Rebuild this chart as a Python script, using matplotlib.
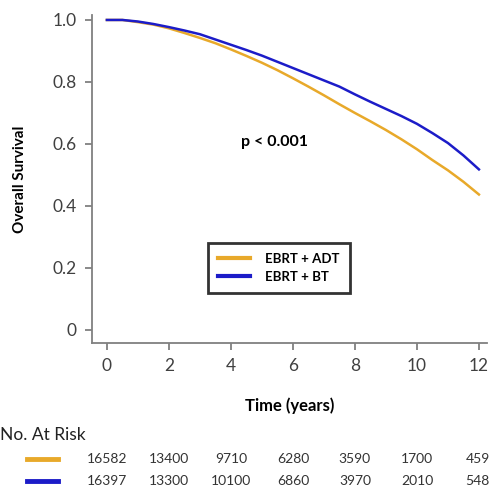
import matplotlib
matplotlib.use("Agg")
import matplotlib.pyplot as plt
from matplotlib.transforms import blended_transform_factory

plt.rcParams['font.family'] = ['Lato', 'DejaVu Sans']

# Data
time_years = [0, 0.5, 1.0, 1.5, 2.0, 2.5, 3.0, 3.5, 4.0, 4.5, 5.0, 5.5, 6.0,
              6.5, 7.0, 7.5, 8.0, 8.5, 9.0, 9.5, 10.0, 10.5, 11.0, 11.5, 12.0]
surv_adt = [1.0, 1.0, 0.993, 0.985, 0.973, 0.958, 0.942, 0.925, 0.905, 0.884,
            0.862, 0.838, 0.812, 0.785, 0.757, 0.728, 0.700, 0.673, 0.645,
            0.615, 0.583, 0.548, 0.515, 0.478, 0.437]
surv_bt = [1.0, 1.0, 0.995, 0.987, 0.977, 0.966, 0.954, 0.937, 0.920, 0.903,
           0.885, 0.865, 0.845, 0.825, 0.805, 0.785, 0.760, 0.736, 0.713,
           0.690, 0.665, 0.635, 0.603, 0.563, 0.518]
series_labels = ["EBRT + ADT", "EBRT + BT"]
risk_times = [0, 2, 4, 6, 8, 10, 12]
risk_adt = [16582, 13400, 9710, 6280, 3590, 1700, 459]
risk_bt = [16397, 13300, 10100, 6860, 3970, 2010, 548]
xticks = [0, 2, 4, 6, 8, 10, 12]
yticks = [0, 0.2, 0.4, 0.6, 0.8, 1.0]
ytick_labels = ["0", "0.2", "0.4", "0.6", "0.8", "1.0"]

c_adt = "#E8A92A"
c_bt = "#1C1CC8"

fig = plt.figure(figsize=(4.93, 4.88), dpi=100)
ax = fig.add_axes([92/493, 1 - 343/488, (487 - 92)/493, (343 - 15)/488])

ax.plot(time_years, surv_adt, color=c_adt, lw=1.8, label=series_labels[0])
ax.plot(time_years, surv_bt, color=c_bt, lw=1.8, label=series_labels[1])

ax.set_xlim(-0.48, 12.26)
ax.set_ylim(-0.042, 1.016)
for s in ['top', 'right']:
    ax.spines[s].set_visible(False)
for s in ['left', 'bottom']:
    ax.spines[s].set_color('#808080')
    ax.spines[s].set_linewidth(1.3)
ax.set_xticks(xticks)
ax.set_yticks(yticks)
ax.set_yticklabels(ytick_labels)
ax.tick_params(axis='both', colors='#808080', labelcolor='#404040',
               length=5, width=1.3, labelsize=12.5, pad=6)

ax.set_xlabel("Time (years)", fontsize=12, fontweight='bold', labelpad=17)
ax.set_ylabel("Overall Survival", fontsize=11, fontweight='bold', labelpad=18)

ax.text(5.4, 0.605, "p < 0.001", fontsize=11.5, fontweight='bold',
        ha='center', va='center')

leg = ax.legend(loc='upper left', bbox_to_anchor=(208/493, 1 - 243/488),
                bbox_transform=fig.transFigure, frameon=True, fancybox=False,
                prop={'weight': 'bold', 'size': 9.5}, handlelength=2.4,
                handletextpad=1.2, borderpad=0.75, labelspacing=0.45,
                borderaxespad=0)
leg.get_frame().set_edgecolor('black')
leg.get_frame().set_linewidth(2)
for h in leg.get_lines():
    h.set_linewidth(3)

# At risk table
fig.text(0.0, 1 - 435/488, "No. At Risk", fontsize=12.5, ha='left', va='center',
         color='#222222')
trans = blended_transform_factory(ax.transData, fig.transFigure)
for yrow, col, vals in [(1 - 459/488, c_adt, risk_adt), (1 - 481/488, c_bt, risk_bt)]:
    fig.add_artist(plt.Line2D([27/493, 58/493], [yrow, yrow], color=col, lw=3.5,
                              transform=fig.transFigure))
    for t, v in zip(risk_times, vals):
        ha = 'center'
        x = t
        if t == risk_times[-1]:
            x = t + 0.35
            ha = 'right'
        fig.text(x, yrow, str(v), transform=trans, fontsize=10, ha=ha,
                 va='center', color='#333333')

fig.savefig("out.png", dpi=100)
